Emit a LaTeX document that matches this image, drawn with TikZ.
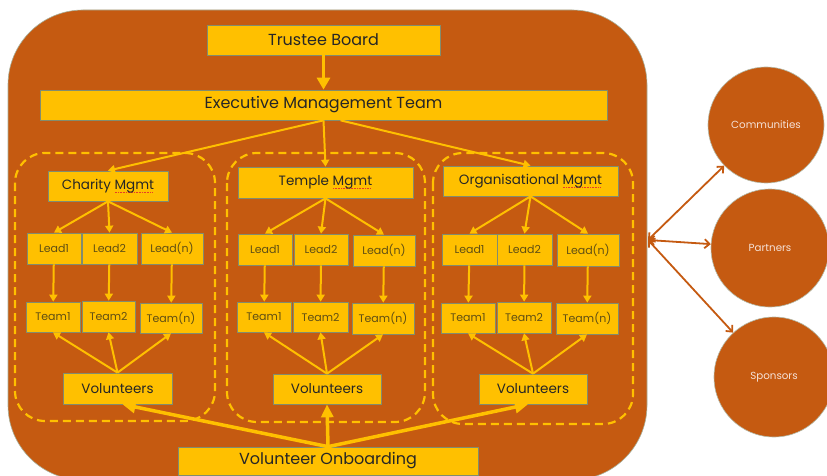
\documentclass[tikz,border=0pt]{standalone}
\usepackage{fontspec}
\setmainfont{Poppins}
\usetikzlibrary{arrows.meta}
\definecolor{org}{RGB}{197,90,17}
\definecolor{ylw}{RGB}{255,192,0}
\definecolor{bline}{RGB}{130,140,110}
\definecolor{txt}{RGB}{38,38,38}
\definecolor{stxt}{RGB}{95,78,20}
\definecolor{ctxt}{RGB}{245,225,215}
\definecolor{squigc}{RGB}{230,60,40}
\newcommand\squigword[1]{\setbox0\hbox{#1}\rlap{\raisebox{-3pt}{\color{squigc}\hbox to\wd0{\leaders\hbox to 1.6pt{\hss\rule{0.9pt}{0.6pt}\hss}\hfill}}}#1}
\begin{document}
\begin{tikzpicture}[x=1pt,y=-1pt,
  box/.style={draw=bline,fill=ylw,line width=0.7pt,inner sep=0pt,text=txt},
  bigbox/.style={box,font=\fontsize{16}{18}\selectfont},
  midbox/.style={box,font=\fontsize{13.5}{15}\selectfont},
  smallbox/.style={box,text=stxt,font=\fontsize{11}{13}\selectfont},
  arr/.style={draw=ylw,line width=2pt,-{Triangle[length=7pt,width=8pt]}},
  bigarr/.style={draw=ylw,line width=3.5pt,-{Triangle[length=13pt,width=12pt]}},
  grp/.style={draw=ylw,line width=2.2pt,dash pattern=on 8pt off 5pt,rounded corners=30pt},
  ext/.style={draw=org,line width=1.8pt,{Straight Barb[length=5pt,width=9pt]}-{Straight Barb[length=5pt,width=9pt]}},
  circ/.style={circle,fill=org,draw=bline!60,line width=0.6pt,inner sep=0pt,text=ctxt,font=\fontsize{10.3}{12}\selectfont}
]
\useasboundingbox (0,0) rectangle (827,476);
\clip (0,0) rectangle (827,476);
\fill[white] (0,0) rectangle (827,476);
\draw[draw=bline!70,fill=org,line width=0.6pt,rounded corners=75pt] (8,10) rectangle (647,480);

\draw[grp] (15,153) rectangle (215,421);
\draw[grp] (227,153) rectangle (425,422);
\draw[grp] (433,153) rectangle (633,424);

\node[bigbox,minimum width=233pt,minimum height=30pt] (tb) at (323.5,40) {Trustee Board};
\node[bigbox,minimum width=567pt,minimum height=30pt] (emt) at (323.5,105) {Executive Management Team};

\node[midbox,minimum width=120pt,minimum height=30pt] (cm) at (108,186) {Charity \squigword{Mgmt}};
\node[midbox,minimum width=175pt,minimum height=31pt] (tm) at (325.5,182.5) {Temple \squigword{Mgmt}};
\node[midbox,minimum width=175pt,minimum height=30pt] (om) at (530.5,181) {Organisational \squigword{Mgmt}};

\node[smallbox,minimum width=54pt,minimum height=31pt] (l11) at (54,248.5) {Lead1};
\node[smallbox,minimum width=55pt,minimum height=31pt] (l12) at (109.5,248.5) {Lead2};
\node[smallbox,minimum width=62pt,minimum height=31pt] (l1n) at (172,248.5) {Lead(n)};
\node[smallbox,minimum width=54pt,minimum height=30pt] (t11) at (53,317) {Team1};
\node[smallbox,minimum width=53pt,minimum height=31pt] (t12) at (108.5,316.5) {Team2};
\node[smallbox,minimum width=62pt,minimum height=30pt] (t1n) at (171,318) {Team(n)};
\node[midbox,minimum width=109pt,minimum height=31pt] (v1) at (117.5,388.5) {Volunteers};

\node[smallbox,minimum width=54pt,minimum height=31pt] (l21) at (265,249.5) {Lead1};
\node[smallbox,minimum width=54pt,minimum height=31pt] (l22) at (321,249.5) {Lead2};
\node[smallbox,minimum width=62pt,minimum height=31pt] (l2n) at (384,250.5) {Lead(n)};
\node[smallbox,minimum width=54pt,minimum height=30pt] (t21) at (264,317) {Team1};
\node[smallbox,minimum width=55pt,minimum height=30pt] (t22) at (320.5,317) {Team2};
\node[smallbox,minimum width=62pt,minimum height=31pt] (t2n) at (383,318.5) {Team(n)};
\node[midbox,minimum width=108pt,minimum height=30pt] (v2) at (327,389) {Volunteers};

\node[smallbox,minimum width=55pt,minimum height=31pt] (l31) at (469.5,249.5) {Lead1};
\node[smallbox,minimum width=55pt,minimum height=31pt] (l32) at (524.5,249.5) {Lead2};
\node[smallbox,minimum width=62pt,minimum height=32pt] (l3n) at (588,250) {Lead(n)};
\node[smallbox,minimum width=54pt,minimum height=30pt] (t31) at (468,318) {Team1};
\node[smallbox,minimum width=54pt,minimum height=31pt] (t32) at (524,317.5) {Team2};
\node[smallbox,minimum width=62pt,minimum height=31pt] (t3n) at (587,318.5) {Team(n)};
\node[midbox,minimum width=108pt,minimum height=30pt] (v3) at (533,389) {Volunteers};

\node[bigbox,minimum width=300pt,minimum height=28pt] (vo) at (328,461) {Volunteer Onboarding};

% arrows
\draw[draw=ylw,line width=3pt,-{Triangle[length=12pt,width=13pt]}] (tb) -- (emt);
\draw[arr] (emt.south) -- (cm.north);
\draw[arr] (emt.south) -- (tm.north);
\draw[arr] ([xshift=17pt]emt.south) -- (om.north);

\foreach \g/\m in {1/cm,2/tm,3/om}{
  \draw[arr] (\m.south) -- (l\g1.north);
  \draw[arr] (\m.south) -- (l\g2.north);
  \draw[arr] (\m.south) -- (l\g n.north);
  \draw[arr] (l\g1) -- (t\g1);
  \draw[arr] (l\g2) -- (t\g2);
  \draw[arr] (l\g n) -- (t\g n);
  \draw[arr] (v\g.north) -- (t\g1.south);
  \draw[arr] (v\g.north) -- (t\g2.south);
  \draw[arr] (v\g.north) -- (t\g n.south);
}
\draw[bigarr] (vo.north) -- ([xshift=5pt]v1.south);
\draw[bigarr] (vo.north) -- (v2.south);
\draw[bigarr] (vo.north) -- ([xshift=-5pt]v3.south);

% external circles
\node[circ,minimum size=116pt] (comm) at (766,125) {Communities};
\node[circ,minimum size=118pt] (part) at (770,248) {Partners};
\node[circ,minimum size=120pt] (spon) at (774,377) {Sponsors};
\coordinate (hub) at (648,240);
\draw[ext] (hub) -- (comm);
\draw[ext] (hub) -- (part);
\draw[ext] (hub) -- (spon);
\end{tikzpicture}
\end{document}
